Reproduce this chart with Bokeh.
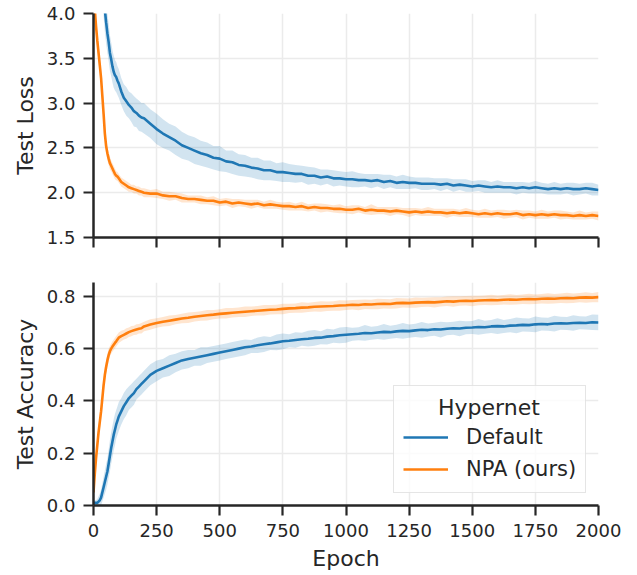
import numpy as np
from bokeh.plotting import figure
from bokeh.layouts import column
from bokeh.models import FixedTicker, Legend, LegendItem, Range1d, CustomJSTickFormatter
from bokeh.embed import file_html
from bokeh.resources import INLINE

# ---------------- data ----------------
epochs = list(range(0, 100, 5)) + list(range(100, 200, 10)) + list(range(200, 2001, 25))

default_loss = [
    6.60, 6.35, 6.05, 5.72, 5.38, 5.05, 4.76, 4.48, 4.24, 4.04, 3.90, 3.78, 3.68, 3.56, 3.49, 3.41, 3.35, 3.31, 3.29, 3.25,
    3.22, 3.13, 3.06, 3.02, 2.98, 2.95, 2.91, 2.89, 2.86, 2.84,
    2.83, 2.77, 2.71, 2.66, 2.62, 2.58, 2.53, 2.50, 2.47, 2.44, 2.42, 2.39, 2.38, 2.35, 2.34, 2.31,
    2.30, 2.28, 2.27, 2.25, 2.25, 2.23, 2.23, 2.22, 2.21, 2.21, 2.19, 2.19, 2.17, 2.18, 2.16, 2.16,
    2.15, 2.15, 2.14, 2.14, 2.13, 2.14, 2.12, 2.13, 2.11, 2.12, 2.11, 2.11, 2.10, 2.10, 2.10, 2.09,
    2.10, 2.08, 2.09, 2.08, 2.07, 2.08, 2.07, 2.06, 2.07, 2.06, 2.06, 2.05, 2.06, 2.05, 2.06, 2.05,
    2.04, 2.05, 2.04, 2.05, 2.04, 2.04, 2.05, 2.04, 2.03,
]
default_loss_sd = [
    0.40, 0.40, 0.38, 0.36, 0.34, 0.32, 0.30, 0.28, 0.27, 0.25, 0.24, 0.22, 0.21, 0.20, 0.19, 0.18, 0.18, 0.17, 0.17, 0.16,
    0.16, 0.15, 0.15, 0.16, 0.15, 0.16, 0.17, 0.16, 0.17, 0.16,
    0.17, 0.16, 0.17, 0.16, 0.15, 0.16, 0.15, 0.14, 0.15, 0.14, 0.14, 0.13, 0.14, 0.12, 0.13, 0.12,
    0.12, 0.11, 0.12, 0.11, 0.11, 0.10, 0.11, 0.10, 0.10, 0.09, 0.10, 0.09, 0.09, 0.08, 0.09, 0.08,
    0.08, 0.09, 0.08, 0.07, 0.08, 0.07, 0.08, 0.07, 0.07, 0.08, 0.07, 0.06, 0.07, 0.07, 0.06, 0.07,
    0.06, 0.07, 0.06, 0.07, 0.06, 0.06, 0.07, 0.06, 0.07, 0.06, 0.06, 0.07, 0.06, 0.06, 0.07, 0.06,
    0.06, 0.07, 0.06, 0.06, 0.07, 0.06, 0.06, 0.07, 0.06,
]
npa_loss = [
    4.25, 4.05, 3.86, 3.70, 3.56, 3.42, 3.28, 3.08, 2.88, 2.66, 2.52, 2.44, 2.38, 2.33, 2.30, 2.27, 2.24, 2.21, 2.19, 2.18,
    2.16, 2.12, 2.10, 2.08, 2.06, 2.05, 2.04, 2.03, 2.02, 2.01,
    2.00, 1.99, 1.99, 1.97, 1.96, 1.96, 1.94, 1.93, 1.93, 1.92, 1.91, 1.91, 1.89, 1.90, 1.88, 1.89,
    1.88, 1.87, 1.88, 1.86, 1.87, 1.86, 1.85, 1.85, 1.84, 1.85, 1.83, 1.84, 1.83, 1.83, 1.82, 1.82,
    1.81, 1.81, 1.82, 1.80, 1.81, 1.80, 1.80, 1.79, 1.80, 1.79, 1.78, 1.79, 1.78, 1.79, 1.78, 1.78,
    1.77, 1.78, 1.77, 1.78, 1.77, 1.76, 1.77, 1.76, 1.77, 1.76, 1.76, 1.77, 1.75, 1.76, 1.75, 1.76,
    1.75, 1.76, 1.75, 1.75, 1.74, 1.75, 1.74, 1.75, 1.74,
]
npa_loss_sd = [
    0.10, 0.10, 0.10, 0.10, 0.10, 0.10, 0.10, 0.10, 0.09, 0.09, 0.08, 0.08, 0.07, 0.07, 0.06, 0.06, 0.06, 0.06, 0.05, 0.05,
    0.05, 0.05, 0.05, 0.05, 0.05, 0.04, 0.05, 0.04, 0.05, 0.04,
    0.05, 0.04, 0.05, 0.04, 0.05, 0.04, 0.05, 0.04, 0.04, 0.05, 0.04, 0.05, 0.04, 0.04, 0.05, 0.04,
    0.04, 0.05, 0.04, 0.04, 0.05, 0.04, 0.04, 0.05, 0.04, 0.05, 0.04, 0.04, 0.05, 0.04, 0.04, 0.05,
    0.04, 0.05, 0.04, 0.04, 0.06, 0.04, 0.04, 0.05, 0.04, 0.04, 0.05, 0.04, 0.04, 0.05, 0.04, 0.04,
    0.05, 0.04, 0.04, 0.05, 0.04, 0.04, 0.05, 0.04, 0.04, 0.05, 0.04, 0.04, 0.05, 0.04, 0.04, 0.05,
    0.04, 0.04, 0.05, 0.04, 0.04, 0.05, 0.04, 0.04, 0.05,
]
default_acc = [
    0.010, 0.010, 0.010, 0.010, 0.015, 0.020, 0.030, 0.050, 0.070, 0.090, 0.110, 0.130, 0.160, 0.190, 0.220, 0.245, 0.270, 0.290, 0.310, 0.325,
    0.340, 0.360, 0.380, 0.395, 0.410, 0.420, 0.430, 0.445, 0.455, 0.465,
    0.475, 0.500, 0.515, 0.525, 0.535, 0.545, 0.555, 0.560, 0.565, 0.570, 0.575, 0.580, 0.585, 0.590, 0.595, 0.600,
    0.605, 0.608, 0.613, 0.617, 0.620, 0.624, 0.628, 0.630, 0.633, 0.636, 0.638, 0.641, 0.642, 0.646, 0.648, 0.651,
    0.653, 0.655, 0.657, 0.660, 0.659, 0.662, 0.664, 0.663, 0.666, 0.668, 0.667, 0.670, 0.672, 0.671, 0.674, 0.673,
    0.676, 0.678, 0.677, 0.680, 0.681, 0.683, 0.682, 0.685, 0.686, 0.685, 0.688, 0.689, 0.691, 0.690, 0.693, 0.694,
    0.693, 0.696, 0.697, 0.696, 0.698, 0.699, 0.698, 0.701, 0.700,
]
default_acc_sd = [
    0.010, 0.010, 0.010, 0.015, 0.020, 0.025, 0.030, 0.035, 0.040, 0.045, 0.050, 0.050, 0.055, 0.060, 0.060, 0.060, 0.060, 0.060, 0.055, 0.055,
    0.055, 0.050, 0.050, 0.050, 0.045, 0.045, 0.045, 0.040, 0.040, 0.040,
    0.040, 0.040, 0.040, 0.035, 0.040, 0.035, 0.035, 0.035, 0.030, 0.035, 0.030, 0.030, 0.030, 0.030, 0.030, 0.030,
    0.030, 0.025, 0.030, 0.030, 0.025, 0.030, 0.030, 0.025, 0.030, 0.025, 0.030, 0.030, 0.025, 0.030, 0.025, 0.030,
    0.030, 0.025, 0.025, 0.030, 0.025, 0.025, 0.030, 0.025, 0.025, 0.030, 0.025, 0.025, 0.030, 0.025, 0.025, 0.030,
    0.025, 0.025, 0.030, 0.025, 0.025, 0.030, 0.025, 0.025, 0.030, 0.025, 0.025, 0.030, 0.025, 0.025, 0.030, 0.025,
    0.025, 0.030, 0.025, 0.025, 0.030, 0.025, 0.025, 0.030, 0.030,
]
npa_acc = [
    0.050, 0.120, 0.180, 0.230, 0.280, 0.320, 0.360, 0.410, 0.460, 0.500, 0.530, 0.555, 0.575, 0.590, 0.600, 0.608, 0.615, 0.622, 0.628, 0.635,
    0.642, 0.648, 0.653, 0.658, 0.663, 0.667, 0.670, 0.673, 0.676, 0.678,
    0.685, 0.692, 0.698, 0.703, 0.707, 0.711, 0.715, 0.718, 0.722, 0.725, 0.728, 0.730, 0.733, 0.735, 0.737, 0.739,
    0.741, 0.743, 0.745, 0.747, 0.749, 0.750, 0.752, 0.754, 0.755, 0.757, 0.758, 0.760, 0.761, 0.762, 0.763, 0.765,
    0.766, 0.768, 0.767, 0.770, 0.769, 0.771, 0.772, 0.771, 0.774, 0.775, 0.774, 0.776, 0.777, 0.778, 0.777, 0.779,
    0.781, 0.780, 0.782, 0.783, 0.782, 0.784, 0.785, 0.786, 0.785, 0.787, 0.788, 0.787, 0.789, 0.790, 0.789, 0.791,
    0.792, 0.791, 0.793, 0.794, 0.793, 0.795, 0.796, 0.795, 0.797,
]
npa_acc_sd = [
    0.020, 0.030, 0.030, 0.030, 0.030, 0.030, 0.030, 0.030, 0.030, 0.030, 0.025, 0.025, 0.025, 0.020, 0.020, 0.020, 0.020, 0.020, 0.020, 0.020,
    0.020, 0.020, 0.018, 0.020, 0.018, 0.020, 0.018, 0.020, 0.018, 0.020,
    0.018, 0.020, 0.018, 0.018, 0.020, 0.018, 0.018, 0.020, 0.018, 0.018, 0.020, 0.018, 0.018, 0.020, 0.018, 0.018,
    0.020, 0.018, 0.018, 0.020, 0.018, 0.018, 0.020, 0.018, 0.018, 0.020, 0.018, 0.018, 0.020, 0.018, 0.018, 0.020,
    0.018, 0.018, 0.020, 0.018, 0.018, 0.020, 0.018, 0.018, 0.020, 0.018, 0.018, 0.020, 0.018, 0.018, 0.020, 0.018,
    0.018, 0.020, 0.018, 0.018, 0.020, 0.018, 0.018, 0.020, 0.018, 0.018, 0.020, 0.018, 0.018, 0.020, 0.018, 0.018,
    0.020, 0.018, 0.018, 0.020, 0.018, 0.018, 0.020, 0.018, 0.020,
]

x_ticks = [0, 250, 500, 750, 1000, 1250, 1500, 1750, 2000]
loss_ticks = [1.5, 2.0, 2.5, 3.0, 3.5, 4.0]
acc_ticks = [0.0, 0.2, 0.4, 0.6, 0.8]
series_names = ["Default", "NPA (ours)"]
legend_title = "Hypernet"

for arr in (default_loss, default_loss_sd, npa_loss, npa_loss_sd, default_acc, default_acc_sd, npa_acc, npa_acc_sd):
    assert len(arr) == len(epochs), len(arr)

# ---------------- style ----------------
FONT = "DejaVu Sans"
TEXT = "#262626"
BLUE = "#1f77b4"
ORANGE = "#ff7f0e"
GRID = "#ebebeb"


def style(p, show_x_labels):
    p.outline_line_color = None
    p.background_fill_color = "white"
    p.border_fill_color = "white"
    for ax in (p.xaxis[0], p.yaxis[0]):
        ax.axis_line_color = TEXT
        ax.axis_line_width = 2.5
        ax.major_tick_line_color = TEXT
        ax.major_tick_line_width = 2.2
        ax.major_tick_out = 10
        ax.major_tick_in = 0
        ax.minor_tick_line_color = None
        ax.major_label_text_font = FONT
        ax.major_label_text_font_size = "18px"
        ax.major_label_text_color = TEXT
        ax.major_label_standoff = 8
        ax.axis_label_text_font = FONT
        ax.axis_label_text_font_size = "22px"
        ax.axis_label_text_font_style = "normal"
        ax.axis_label_text_color = TEXT
        ax.axis_label_standoff = 6
    if not show_x_labels:
        p.xaxis[0].major_label_text_color = None
        p.xaxis[0].major_label_standoff = 0
    p.xgrid.grid_line_color = GRID
    p.ygrid.grid_line_color = GRID
    p.xgrid.grid_line_width = 1.5
    p.ygrid.grid_line_width = 1.5
    p.xaxis.ticker = FixedTicker(ticks=x_ticks)


x = np.array(epochs, dtype=float)

# ---------------- top: loss ----------------
p1 = figure(frame_width=505, frame_height=224, min_border_left=93, min_border_right=30,
            min_border_top=13, min_border_bottom=25,
            x_range=Range1d(0, 2000), y_range=Range1d(1.5, 4.0),
            output_backend="svg", toolbar_location=None)
style(p1, False)
p1.yaxis.ticker = FixedTicker(ticks=loss_ticks)
p1.yaxis.formatter = CustomJSTickFormatter(code="return tick.toFixed(1);")
p1.yaxis.axis_label = "Test Loss"

dl, dls = np.array(default_loss), np.array(default_loss_sd)
nl, nls = np.array(npa_loss), np.array(npa_loss_sd)
p1.varea(x=x, y1=dl - dls, y2=dl + dls, fill_color=BLUE, fill_alpha=0.2)
p1.varea(x=x, y1=nl - nls, y2=nl + nls, fill_color=ORANGE, fill_alpha=0.2)
p1.line(x, dl, line_color=BLUE, line_width=2.6)
p1.line(x, nl, line_color=ORANGE, line_width=2.6)

# ---------------- bottom: accuracy ----------------
p2 = figure(frame_width=505, frame_height=223, min_border_left=93, min_border_right=30,
            min_border_top=20, min_border_bottom=60,
            x_range=Range1d(0, 2000), y_range=Range1d(0.0, 0.853),
            output_backend="svg", toolbar_location=None)
style(p2, True)
p2.yaxis.ticker = FixedTicker(ticks=acc_ticks)
p2.yaxis.formatter = CustomJSTickFormatter(code="return tick.toFixed(1);")
p2.yaxis.axis_label = "Test Accuracy"
p2.xaxis.axis_label = "Epoch"

da, das = np.array(default_acc), np.array(default_acc_sd)
na, nas = np.array(npa_acc), np.array(npa_acc_sd)
p2.varea(x=x, y1=da - das, y2=da + das, fill_color=BLUE, fill_alpha=0.2)
p2.varea(x=x, y1=na - nas, y2=na + nas, fill_color=ORANGE, fill_alpha=0.2)
r_def = p2.line(x, da, line_color=BLUE, line_width=2.6)
r_npa = p2.line(x, na, line_color=ORANGE, line_width=2.6)

# centre the title inside the box with non-breaking spaces (legend titles are left-aligned)
legend = Legend(
    items=[LegendItem(label=series_names[0], renderers=[r_def]),
           LegendItem(label=series_names[1], renderers=[r_npa])],
    location=(300, 12), orientation="vertical",
    title="\u00a0" * 5 + legend_title, title_text_font=FONT, title_text_font_size="22px",
    title_text_font_style="normal", title_text_color=TEXT, title_standoff=3,
    label_text_font=FONT, label_text_font_size="21px", label_text_color=TEXT,
    glyph_width=45, glyph_height=28, label_height=28, label_standoff=18,
    spacing=4, padding=9, margin=0,
    border_line_color="#cccccc", border_line_width=1.5,
    background_fill_color="white", background_fill_alpha=0.8,
)
p2.add_layout(legend)

layout = column(p1, p2, spacing=0)
open("out.html", "w").write(file_html(layout, INLINE))
